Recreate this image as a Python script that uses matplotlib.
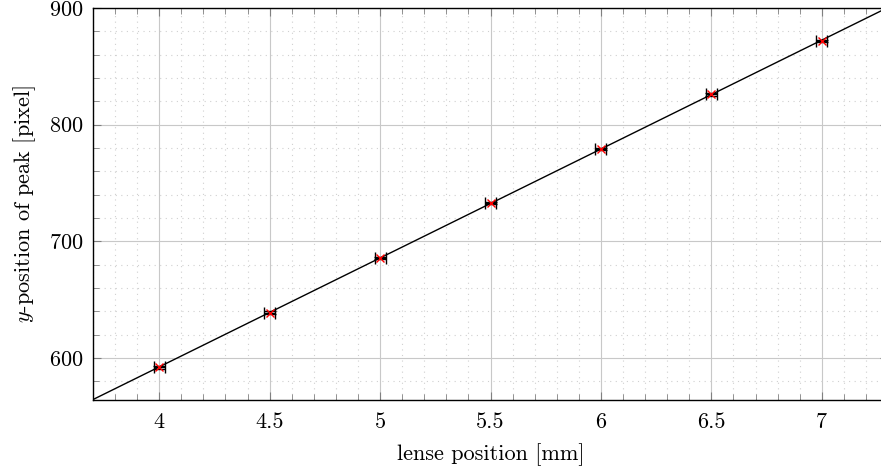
import numpy as np
import matplotlib
matplotlib.use("Agg")
import matplotlib.pyplot as plt
from matplotlib.ticker import MultipleLocator

# lense position [mm] and measured peak position [pixel]
lense_pos = [4.0, 4.5, 5.0, 5.5, 6.0, 6.5, 7.0]
peak_y = [592, 639, 686, 733, 779, 826, 872]
pos_err = [0.025, 0.025, 0.025, 0.025, 0.025, 0.025, 0.025]
peak_err = [1, 1, 1, 1, 1, 1, 1]

plt.rcParams.update({
    "font.family": "cmr10",
    "mathtext.fontset": "cm",
    "axes.formatter.use_mathtext": True,
    "font.size": 16,
})

fig = plt.figure(figsize=(8.81, 4.72), dpi=100)
# axes run slightly past the right edge, like the cropped original
ax = fig.add_axes([93 / 881, 1 - 400 / 472, 795 / 881, 392 / 472])

xlim = (3.7, 7.3)
ax.set_xlim(*xlim)
ax.set_ylim(564, 900)

# linear fit drawn across the whole axis
m, b = np.polyfit(lense_pos, peak_y, 1)
xs = np.array(xlim)
ax.plot(xs, m * xs + b, color="k", lw=1, zorder=3)

ax.errorbar(lense_pos, peak_y, xerr=pos_err, yerr=peak_err, fmt="none",
            ecolor="k", elinewidth=1, capsize=4, capthick=1, zorder=4)
ax.plot(lense_pos, peak_y, "x", color="red", ms=6, mew=1, zorder=5)

ax.xaxis.set_major_locator(MultipleLocator(0.5))
ax.xaxis.set_minor_locator(MultipleLocator(0.1))
ax.yaxis.set_major_locator(MultipleLocator(100))
ax.yaxis.set_minor_locator(MultipleLocator(20))
ax.set_xticks([4, 4.5, 5, 5.5, 6, 6.5, 7])
ax.set_xticklabels(["4", "4.5", "5", "5.5", "6", "6.5", "7"])

ax.grid(which="major", color="#c8c8c8", lw=0.8, ls="-")
ax.grid(which="minor", color="#d0d0d0", lw=0.8, ls=(0, (1, 4)))
ax.set_axisbelow(True)

ax.tick_params(which="both", direction="in", top=True, right=True,
               color="#808080", labelsize=16)
ax.tick_params(axis="x", pad=9)
ax.tick_params(axis="y", pad=7)
ax.tick_params(which="major", length=6, width=0.8)
ax.tick_params(which="minor", length=4, width=0.6)
for s in ax.spines.values():
    s.set_linewidth(1)
    s.set_color("k")

ax.set_xlabel("lense position [mm]", fontsize=16, labelpad=8)
ax.set_ylabel("$y$-position of peak [pixel]", fontsize=16, labelpad=8)

fig.savefig("out.png", dpi=100)
